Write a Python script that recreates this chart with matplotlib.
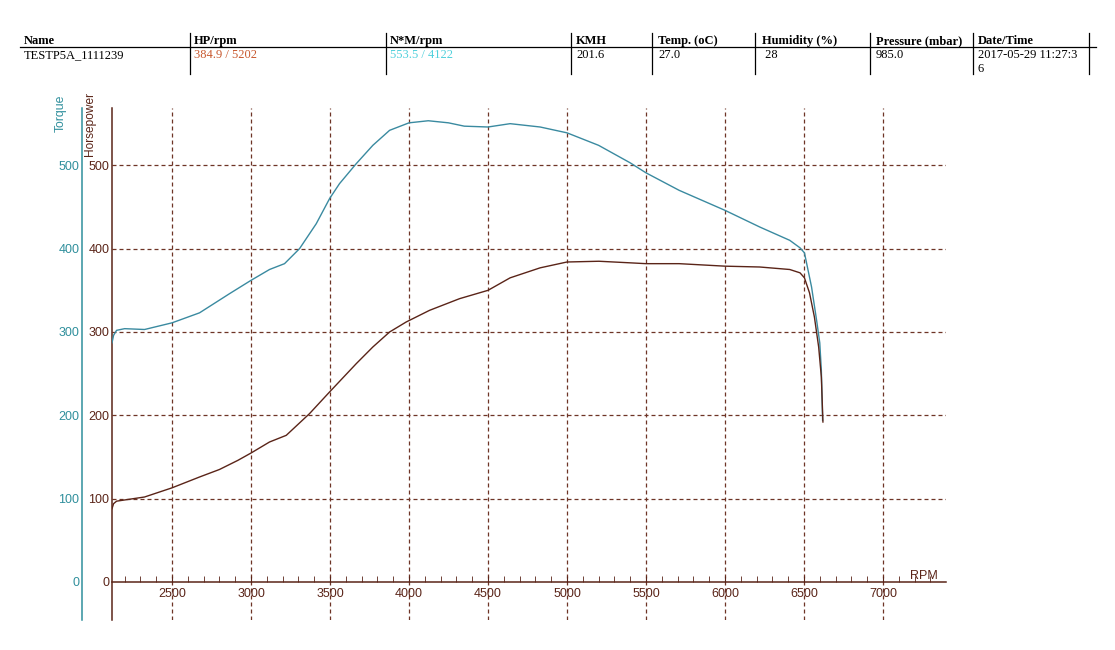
import matplotlib
matplotlib.use("Agg")
import matplotlib.pyplot as plt
from matplotlib.ticker import MultipleLocator

# ---------------- data ----------------
torque_rpm = [2120, 2130, 2149, 2200, 2326, 2500, 2674, 2864, 3000, 3117, 3212,
              3307, 3413, 3497, 3560, 3666, 3771, 3877, 4000, 4122, 4250, 4350, 4500,
              4640, 4830, 5000, 5200, 5400, 5500, 5710, 6000, 6220, 6410, 6475, 6503,
              6548, 6580, 6600, 6610, 6618]
torque_nm = [287, 296, 302, 304, 303, 311, 323, 346, 362, 375, 382,
             400, 430, 460, 478, 502, 524, 542, 551, 553.5, 551, 547, 546,
             550, 546, 539, 524, 503, 491, 470, 446, 426, 410, 401, 395,
             354, 314, 287, 254, 194]

hp_rpm = [2120, 2130, 2149, 2326, 2500, 2674, 2800, 2917, 3002, 3117, 3223, 3370,
          3497, 3666, 3771, 3877, 3982, 4130, 4320, 4500, 4640, 4830, 5000, 5202,
          5400, 5500, 5710, 6000, 6220, 6410, 6475, 6503, 6535, 6566, 6593, 6610, 6620]
hp_val = [88, 94, 97, 102, 113, 126, 135, 146, 155, 168, 176, 202,
          228, 262, 282, 300, 312, 326, 340, 350, 365, 377, 384, 384.9,
          383, 382, 382, 379, 378, 375, 371, 365, 347, 318, 282, 246, 192]

y_ticks = [0, 100, 200, 300, 400, 500]
x_ticks = [2500, 3000, 3500, 4000, 4500, 5000, 5500, 6000, 6500, 7000]

header_titles = ["Name", "HP/rpm", "N*M/rpm", "KMH", "Temp. (oC)", "Humidity (%)",
                 "Pressure (mbar)", "Date/Time"]
header_values = ["TESTP5A_1111239", "384.9 / 5202", "553.5 / 4122", "201.6", "27.0",
                 " 28", "985.0", "2017-05-29 11:27:3\n6"]

# ---------------- style ----------------
W, H = 1115, 650
TEAL = "#2f8f9c"
TEAL_LINE = "#3a8aa0"
BROWN = "#5a2418"
GRID = "#6e3426"
HP_TXT = "#c8582e"
NM_TXT = "#4fd0dc"

fig = plt.figure(figsize=(W / 100, H / 100), dpi=100)
fig.patch.set_facecolor("white")

def fx(px):
    return px / W

def fy(py):
    return 1 - py / H

left_px, right_px, top_px, bot_px = 112, 946, 108, 620
ax = fig.add_axes([fx(left_px), fy(bot_px), (right_px - left_px) / W, (bot_px - top_px) / H])
ax.set_facecolor("none")
ax.set_xlim(2120, 7399)
ax.set_ylim(-45.6, 568.8)

# curves
ax.plot(torque_rpm, torque_nm, color=TEAL_LINE, lw=1.0, zorder=3)
ax.plot(hp_rpm, hp_val, color=BROWN, lw=1.0, zorder=3)

# grid
dash = (0, (3.2, 2.4))
for v in x_ticks:
    ax.axvline(v, color=GRID, lw=0.9, ls=dash, zorder=1)
for v in y_ticks[1:]:
    ax.axhline(v, color=GRID, lw=0.9, ls=dash, zorder=1)

# spines
for s in ["top", "right"]:
    ax.spines[s].set_visible(False)
ax.spines["left"].set_color(BROWN)
ax.spines["left"].set_linewidth(1.1)
ax.spines["bottom"].set_position(("data", 0))
ax.spines["bottom"].set_color(BROWN)
ax.spines["bottom"].set_linewidth(1.1)

ax.set_xticks(x_ticks)
ax.set_xticklabels([str(v) for v in x_ticks])
ax.xaxis.set_minor_locator(MultipleLocator(100))
ax.tick_params(axis="x", which="both", direction="in", length=4, color=BROWN,
               labelcolor=BROWN, labelsize=9, pad=4)
for lab in ax.get_xticklabels():
    lab.set_family("Liberation Sans")

ax.set_yticks(y_ticks)
ax.set_yticklabels([str(v) for v in y_ticks])
ax.tick_params(axis="y", length=0, labelcolor=BROWN, labelsize=9, pad=2)
for lab in ax.get_yticklabels():
    lab.set_family("Liberation Sans")

# teal torque axis
ax2 = fig.add_axes(ax.get_position(), sharey=ax)
ax2.patch.set_visible(False)
for s in ["top", "right", "bottom"]:
    ax2.spines[s].set_visible(False)
ax2.spines["left"].set_position(("axes", -30 / (right_px - left_px)))
ax2.spines["left"].set_color(TEAL)
ax2.spines["left"].set_linewidth(1.1)
ax2.set_xticks([])
ax2.tick_params(axis="y", length=0, labelcolor=TEAL, labelsize=9, pad=2)
for lab in ax2.get_yticklabels():
    lab.set_family("Liberation Sans")
ax2.set_zorder(-1)

# axis titles
fig.text(fx(61), fy(113), "Torque", rotation=90, color=TEAL, fontsize=8.8,
         family="Liberation Sans", ha="center", va="center")
fig.text(fx(90), fy(124), "Horsepower", rotation=90, color=BROWN, fontsize=8.6,
         family="Liberation Sans", ha="center", va="center")
fig.text(fx(924), fy(576), "RPM", color=BROWN, fontsize=9,
         family="Liberation Sans", ha="center", va="center")

# header table
col_x = [24, 194, 390, 576, 658, 762, 876, 978]
sep_x = [190, 386, 571, 652, 755, 870, 973, 1089]
for sx in sep_x:
    fig.add_artist(plt.Line2D([fx(sx), fx(sx)], [fy(33), fy(74)], color="black", lw=0.9))
fig.add_artist(plt.Line2D([fx(20), fx(1096)], [fy(46.5), fy(46.5)], color="black", lw=0.9))
val_colors = ["black", HP_TXT, NM_TXT, "black", "black", "black", "black", "black"]
for x, t, v, c in zip(col_x, header_titles, header_values, val_colors):
    fig.text(fx(x), fy(41), t, fontsize=9, family="Liberation Serif", weight="bold",
             ha="left", va="center")
    fig.text(fx(x), fy(49), v, fontsize=9, family="Liberation Serif", color=c,
             ha="left", va="top", linespacing=1.25)

fig.savefig("out.png", dpi=100)
